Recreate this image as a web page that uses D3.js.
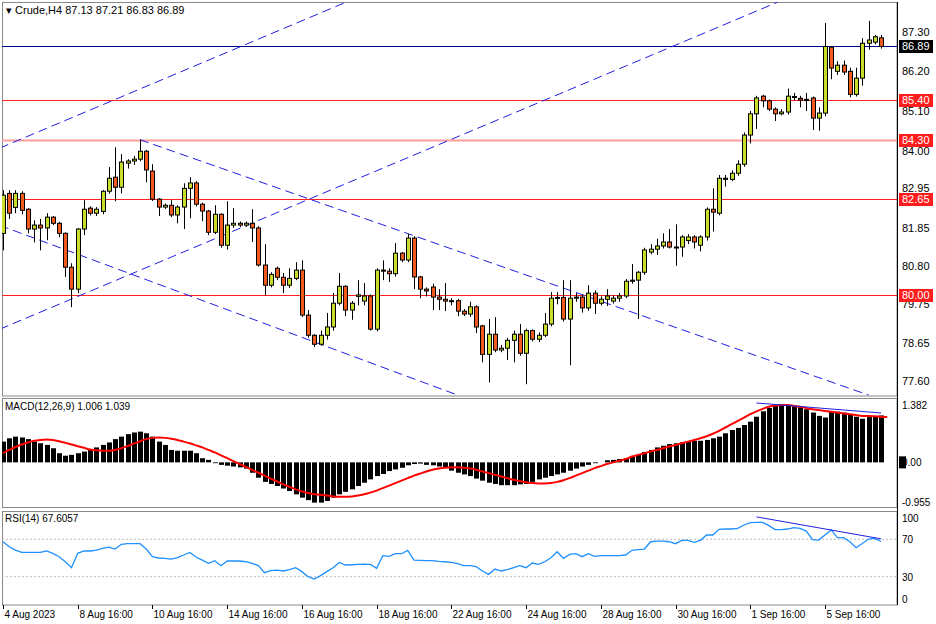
<!DOCTYPE html>
<html><head><meta charset="utf-8">
<script src="https://cdn.jsdelivr.net/npm/d3@7"></script>
<style>body{margin:0;background:#fff}svg{display:block}text{font-family:"Liberation Sans",Arial,sans-serif}</style>
</head><body><svg id="c" width="936" height="624"></svg>
<script>
const open=[81.70,82.81,82.42,82.81,82.37,81.82,81.93,81.85,82.15,81.98,81.70,80.76,80.15,81.82,82.40,82.26,82.31,82.87,83.26,82.98,83.65,83.71,83.76,83.98,83.43,82.65,82.43,82.48,82.21,82.43,82.95,83.10,82.51,82.32,81.73,82.23,81.37,81.93,81.98,81.93,81.98,81.85,80.82,80.26,80.73,80.48,80.26,80.45,80.68,79.43,78.87,78.62,78.87,79.10,79.76,80.23,79.57,79.95,79.82,79.96,79.04,80.68,80.65,80.58,81.15,80.96,81.57,80.49,80.15,80.21,79.93,79.87,79.82,79.83,79.54,79.46,79.66,79.13,78.34,78.90,78.46,78.51,78.73,78.90,78.37,79.00,78.76,78.87,79.18,79.90,79.92,79.32,79.90,79.93,79.63,80.04,79.76,79.87,79.82,79.90,79.96,80.37,80.40,80.62,81.18,81.26,81.35,81.46,81.32,81.32,81.50,81.60,81.37,81.60,82.37,82.26,83.23,83.20,83.37,83.62,84.43,85.02,85.51,85.38,85.15,85.02,85.07,85.50,85.45,85.40,85.46,84.90,85.04,86.87,86.20,86.37,86.20,85.56,86.01,86.98,87.01,87.13];
const close=[82.76,82.26,82.81,82.34,81.82,81.93,81.85,82.15,81.98,81.70,80.76,80.15,81.82,82.37,82.26,82.37,82.87,83.23,82.98,83.68,83.71,83.76,83.98,83.46,82.65,82.43,82.48,82.21,82.43,82.95,83.10,82.51,82.32,81.73,82.23,81.37,81.93,81.98,81.93,81.98,81.85,80.82,80.26,80.56,80.48,80.26,80.45,80.68,79.43,78.87,78.62,78.87,79.10,79.76,80.23,79.57,79.76,79.99,79.96,79.04,80.68,80.65,80.58,81.15,80.96,81.57,80.49,80.15,80.10,79.93,79.87,79.82,79.83,79.54,79.46,79.66,79.10,78.34,78.90,78.46,78.51,78.73,78.90,78.37,79.00,78.76,78.87,79.18,79.90,79.92,79.32,79.90,79.93,79.63,80.04,79.76,79.87,79.96,79.90,79.96,80.37,80.40,80.62,81.24,81.26,81.35,81.46,81.32,81.32,81.60,81.60,81.46,81.60,82.37,82.29,83.23,83.20,83.37,83.62,84.43,85.02,85.46,85.38,85.15,85.02,85.07,85.51,85.48,85.40,85.42,84.90,85.04,86.89,86.29,86.37,86.18,85.56,86.01,86.98,87.07,87.16,86.89];
const high=[82.90,82.90,82.90,82.87,82.40,82.06,82.10,82.26,82.18,82.02,81.73,80.87,81.85,82.62,82.45,82.43,82.90,83.54,84.09,83.90,83.76,83.85,84.30,84.02,83.62,82.68,82.53,82.62,82.48,83.09,83.26,83.15,82.55,82.35,82.48,82.26,82.59,82.40,82.03,82.03,82.37,81.90,81.40,80.62,80.78,80.60,80.73,80.90,80.95,79.57,78.90,79.00,79.49,80.04,80.60,80.26,79.82,80.40,80.32,80.00,80.73,80.95,80.73,81.43,81.18,81.68,81.62,80.52,80.20,80.30,80.15,80.32,79.90,79.88,79.60,79.80,79.70,79.16,79.32,79.37,78.60,78.80,79.00,79.18,79.05,79.03,78.95,79.49,80.07,80.07,80.40,80.40,80.04,80.00,80.26,80.12,79.95,80.15,79.98,80.04,80.43,80.85,80.65,81.30,81.40,81.55,81.70,81.82,81.95,81.65,81.68,81.65,81.65,82.42,82.95,83.32,83.32,83.45,83.73,84.50,85.10,85.52,85.55,85.42,85.20,85.15,85.72,85.60,85.52,85.60,85.50,85.20,87.54,86.90,86.48,86.50,86.30,86.30,87.12,87.60,87.21,87.21];
const low=[81.23,82.10,82.26,82.23,81.70,81.45,81.23,81.51,81.93,81.59,80.49,79.65,80.04,81.65,82.20,82.18,82.23,82.80,82.59,82.81,83.50,83.60,83.70,83.12,82.60,82.18,82.38,82.15,81.98,81.82,82.12,82.45,82.04,81.65,81.68,81.30,81.25,81.85,81.88,81.88,81.46,80.78,79.98,80.20,80.40,80.04,80.18,80.40,79.38,78.80,78.55,78.58,78.75,79.00,79.70,79.40,79.30,79.70,79.70,79.00,78.98,80.40,80.35,80.50,80.90,80.90,80.15,79.90,79.95,79.57,79.57,79.54,79.70,79.40,79.40,79.38,78.93,78.12,77.56,78.40,78.40,78.18,78.12,78.30,77.51,78.70,78.68,78.82,79.12,79.73,79.25,78.04,79.80,79.50,79.55,79.46,79.70,79.68,79.75,79.80,79.90,80.30,79.32,80.55,81.12,81.10,81.28,81.28,80.80,81.05,81.40,81.28,81.20,81.50,81.75,82.20,83.00,83.15,83.30,83.55,84.20,84.60,85.20,85.10,84.82,84.98,85.00,85.40,85.20,85.10,84.57,84.55,84.95,85.98,86.10,86.10,85.48,85.50,85.80,86.80,86.95,86.83];
const macdHist=[0.50,0.58,0.62,0.60,0.56,0.50,0.46,0.42,0.34,0.22,0.16,0.18,0.22,0.26,0.30,0.36,0.42,0.48,0.56,0.62,0.68,0.72,0.74,0.70,0.62,0.50,0.42,0.30,0.28,0.28,0.28,0.22,0.10,0.06,-0.02,-0.06,-0.08,-0.10,-0.12,-0.15,-0.25,-0.37,-0.47,-0.52,-0.57,-0.63,-0.69,-0.77,-0.85,-0.91,-0.97,-0.97,-0.93,-0.85,-0.77,-0.71,-0.65,-0.57,-0.49,-0.41,-0.33,-0.28,-0.21,-0.17,-0.13,-0.07,-0.04,-0.03,-0.06,-0.07,-0.10,-0.13,-0.20,-0.25,-0.29,-0.33,-0.39,-0.44,-0.49,-0.52,-0.55,-0.55,-0.55,-0.53,-0.52,-0.47,-0.41,-0.37,-0.33,-0.29,-0.25,-0.20,-0.15,-0.10,-0.06,-0.02,0.00,0.05,0.06,0.08,0.10,0.14,0.18,0.25,0.30,0.36,0.40,0.44,0.46,0.48,0.50,0.52,0.52,0.54,0.58,0.62,0.70,0.78,0.83,0.90,0.98,1.10,1.23,1.31,1.37,1.39,1.38,1.36,1.33,1.28,1.20,1.12,1.08,1.22,1.22,1.20,1.16,1.10,1.05,1.09,1.11,1.13];
const macdSignal=[0.22,0.30,0.37,0.43,0.48,0.52,0.54,0.55,0.54,0.51,0.47,0.43,0.39,0.35,0.31,0.29,0.28,0.28,0.30,0.34,0.39,0.45,0.51,0.56,0.59,0.60,0.59,0.57,0.54,0.50,0.46,0.41,0.36,0.30,0.24,0.17,0.10,0.03,-0.04,-0.11,-0.18,-0.25,-0.32,-0.39,-0.46,-0.53,-0.59,-0.65,-0.70,-0.74,-0.77,-0.78,-0.80,-0.82,-0.83,-0.83,-0.82,-0.80,-0.77,-0.73,-0.68,-0.62,-0.56,-0.50,-0.44,-0.38,-0.32,-0.27,-0.22,-0.18,-0.15,-0.13,-0.12,-0.12,-0.13,-0.15,-0.18,-0.22,-0.26,-0.30,-0.34,-0.38,-0.42,-0.45,-0.48,-0.50,-0.51,-0.51,-0.50,-0.47,-0.43,-0.38,-0.32,-0.26,-0.20,-0.14,-0.09,-0.04,0.00,0.04,0.08,0.14,0.18,0.22,0.26,0.30,0.34,0.38,0.42,0.46,0.50,0.54,0.58,0.63,0.69,0.76,0.84,0.92,1.00,1.08,1.16,1.23,1.29,1.34,1.37,1.38,1.38,1.36,1.34,1.31,1.28,1.26,1.24,1.22,1.20,1.18,1.16,1.14,1.12,1.12,1.11,1.10,1.09];
const rsi=[67.4,62,58.5,56,56,56,56,57.5,55,51.4,46,39.6,55,57.5,57.5,58.5,60.3,61.7,59.6,64.6,65.3,65.3,65.3,59.6,51.4,50,49.6,48.9,50.3,53.2,56,51,47.8,44.3,47.1,41.8,46.8,46.8,46.8,46,44.3,41.8,34.3,36.4,37.1,36.1,37.5,39.6,35.4,30,27.5,31.1,35.4,39.6,45.3,42.5,42.8,43.2,43.5,43.2,38.9,52.5,51.8,54.6,54.6,58.2,47.8,47.5,47.1,47.1,46.4,46,45.3,43.9,41.8,41.8,40.7,36.1,32.5,38.2,36.1,37.5,39.6,41.8,39.6,44.6,43.2,46,50.3,56.7,49.6,53.9,54.6,51.4,54.6,51.8,52.5,52.5,52.5,52.5,53.2,58.2,58.9,59.6,67.4,68.1,68.1,67.4,65.3,68.9,68.9,66.7,68.9,74.6,74.6,80.6,81,81,81.7,85.3,87.8,88.1,88.1,84.6,80.3,80.3,81,82.4,81.7,78.8,69.6,69.2,74.6,80,71.7,71.7,67.4,61,65.6,70.3,71,67.6];
const dateLabels=["4 Aug 2023","8 Aug 16:00","10 Aug 16:00","14 Aug 16:00","16 Aug 16:00","18 Aug 16:00","22 Aug 16:00","24 Aug 16:00","28 Aug 16:00","30 Aug 16:00","1 Sep 16:00","5 Sep 16:00"];
const priceTicks=[87.30,86.20,85.10,84.00,82.95,81.85,80.80,79.75,78.65,77.60];
const redLevels=[85.40,84.30,82.65,80.00];
const lastPrice=86.89;
const rsiTicks=[100,70,30,0];
// trend lines: [index1, price1, index2, price2]
const channelLines=[[-0.5,84.07,55.1,88.12],[-0.5,79.04,124.4,88.12],[22,84.30,139,77.21],[-0.5,81.92,73,77.21]];
const macdDiv=[[121,1.43],[141,1.19]];
const rsiDiv=[[121,94],[141,70.5]];

const svg=d3.select("#c");
const N=open.length;
const x=d3.scaleLinear().domain([0,N-1]).range([3,881]);
const y=d3.scaleLinear().domain([77.6,87.3]).range([381,31.7]);
const ym=d3.scaleLinear().domain([-0.955,1.382]).range([502,405]);
const yr=d3.scaleLinear().domain([30,70]).range([576.7,539.3]);
const R=897;
const defs=svg.append("defs");
defs.append("clipPath").attr("id","cm").append("rect").attr("x",2).attr("y",2).attr("width",R-2).attr("height",394);
defs.append("clipPath").attr("id","cm2").append("rect").attr("x",2).attr("y",398).attr("width",R-2).attr("height",110);
defs.append("clipPath").attr("id","cm3").append("rect").attr("x",2).attr("y",511).attr("width",R-2).attr("height",94);
svg.append("rect").attr("x",2.5).attr("y",2.5).attr("width",R-2.5).attr("height",393.5).attr("fill","none").attr("stroke","#888");
svg.append("rect").attr("x",2.5).attr("y",398.5).attr("width",R-2.5).attr("height",109).attr("fill","none").attr("stroke","#888");
svg.append("rect").attr("x",2.5).attr("y",511.5).attr("width",R-2.5).attr("height",93.5).attr("fill","none").attr("stroke","#888");
const g=svg.append("g").attr("clip-path","url(#cm)");
redLevels.forEach((v,i)=>g.append("line").attr("x1",2).attr("x2",R).attr("y1",Math.round(y(v))+0.5).attr("y2",Math.round(y(v))+0.5).attr("stroke",i==1?"#ff9c9c":"#ff2020").attr("stroke-width",i==1?2:1));
g.append("line").attr("x1",2).attr("x2",R).attr("y1",Math.round(y(lastPrice))+0.5).attr("y2",Math.round(y(lastPrice))+0.5).attr("stroke","#00008b");
channelLines.forEach(l=>g.append("line").attr("x1",x(l[0])).attr("y1",y(l[1])).attr("x2",x(l[2])).attr("y2",y(l[3])).attr("stroke","#2020e0").attr("stroke-dasharray","9,5").attr("stroke-width",1));
const cg=g.selectAll("g.c").data(d3.range(N)).join("g");
cg.append("line").attr("x1",i=>Math.round(x(i))+0.5).attr("x2",i=>Math.round(x(i))+0.5).attr("y1",i=>y(high[i])).attr("y2",i=>y(low[i])).attr("stroke","#000");
cg.append("rect").attr("x",i=>Math.round(x(i))-2+0.5).attr("width",4).attr("y",i=>y(Math.max(open[i],close[i]))).attr("height",i=>Math.max(1,Math.abs(y(open[i])-y(close[i])))).attr("fill",i=>close[i]>=open[i]?"#c8dc2a":"#f05a1e").attr("stroke","#000").attr("stroke-width",1);
svg.append("line").attr("x1",R+0.5).attr("x2",R+0.5).attr("y1",2).attr("y2",605).attr("stroke","#000");
priceTicks.forEach(v=>{svg.append("text").attr("x",902).attr("y",y(v)+4).attr("font-size",11).text(v.toFixed(2));});
function tag(v,bg){const yy=Math.round(y(v));svg.append("rect").attr("x",899).attr("y",yy-6).attr("width",34).attr("height",13).attr("fill",bg);svg.append("text").attr("x",902).attr("y",yy+4).attr("font-size",11).attr("fill","#fff").text(v.toFixed(2));}
redLevels.forEach(v=>tag(v,"#ff1c1c"));tag(lastPrice,"#000");
svg.append("text").attr("x",6).attr("y",14).attr("font-size",11).text("▾ Crude,H4  87.13 87.21 86.83 86.89");
const mg=svg.append("g").attr("clip-path","url(#cm2)");
mg.selectAll("rect").data(macdHist).join("rect").attr("x",(d,i)=>Math.round(x(i))-2).attr("width",5).attr("y",d=>Math.min(ym(d),ym(0))).attr("height",d=>Math.abs(ym(d)-ym(0))).attr("fill","#000");
mg.append("path").datum(macdSignal).attr("d",d3.line().x((d,i)=>x(i)).y(d=>ym(d)).curve(d3.curveMonotoneX)).attr("fill","none").attr("stroke","#ff0000").attr("stroke-width",2);
mg.append("line").attr("x1",x(macdDiv[0][0])).attr("y1",ym(macdDiv[0][1])).attr("x2",x(macdDiv[1][0])).attr("y2",ym(macdDiv[1][1])).attr("stroke","#2020e0");
svg.append("text").attr("x",5).attr("y",410).attr("font-size",10).text("MACD(12,26,9) 1.006 1.039");
svg.append("rect").attr("x",899).attr("y",ym(0)-6).attr("width",7).attr("height",12).attr("fill","#000");
[[1.382,"1.382"],[0,"0.00"],[-0.955,"-0.955"]].forEach(t=>svg.append("text").attr("x",902).attr("y",ym(t[0])+4).attr("font-size",10).text(t[1]));
const rg=svg.append("g").attr("clip-path","url(#cm3)");
[70,30].forEach(v=>rg.append("line").attr("x1",2).attr("x2",R).attr("y1",yr(v)).attr("y2",yr(v)).attr("stroke","#bbb").attr("stroke-dasharray","2,2"));
rg.append("path").datum(rsi).attr("d",d3.line().x((d,i)=>x(i)).y(d=>yr(d))).attr("fill","none").attr("stroke","#1e90ff").attr("stroke-width",1.3);
rg.append("line").attr("x1",x(rsiDiv[0][0])).attr("y1",yr(rsiDiv[0][1])).attr("x2",x(rsiDiv[1][0])).attr("y2",yr(rsiDiv[1][1])).attr("stroke","#2020e0");
svg.append("text").attr("x",5).attr("y",522).attr("font-size",10).text("RSI(14) 67.6057");
rsiTicks.forEach(v=>{const yy=Math.min(599,Math.max(518,yr(v)));svg.append("text").attr("x",902).attr("y",yy+4).attr("font-size",10).text(v);});
dateLabels.forEach((t,k)=>{const xx=Math.round(x(k*12))+0.5;svg.append("line").attr("x1",xx).attr("x2",xx).attr("y1",605).attr("y2",609).attr("stroke","#000");svg.append("text").attr("x",xx+1).attr("y",618).attr("font-size",10).text(t);});
</script></body></html>
